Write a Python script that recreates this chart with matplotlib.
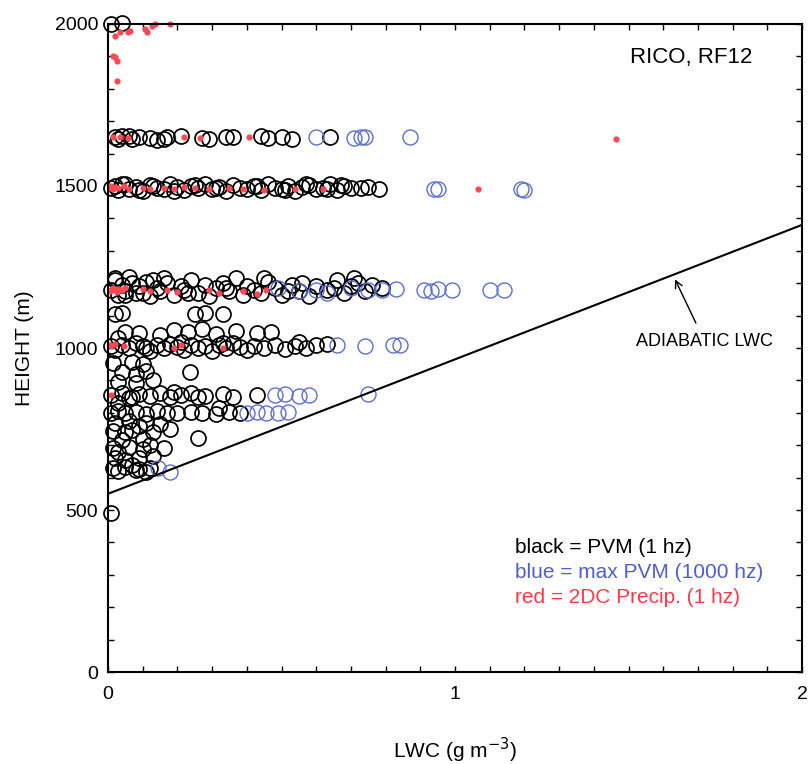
import matplotlib.pyplot as plt
from matplotlib.ticker import MultipleLocator

plt.rcParams['font.family'] = ['Liberation Sans', 'DejaVu Sans']

# PVM (1 hz) - black open circles
pvm_lwc = [
    0.01, 0.04,                                                    # ~2000 m
    0.02, 0.04, 0.07, 0.09, 0.12, 0.14, 0.17, 0.21, 0.27, 0.29,    # ~1650 m
    0.34, 0.36, 0.44, 0.46, 0.50, 0.53, 0.64, 0.03, 0.06, 0.16,
    0.01, 0.02, 0.03, 0.05, 0.06, 0.08, 0.10, 0.12, 0.14, 0.16,    # ~1500 m
    0.18, 0.20, 0.22, 0.24, 0.26, 0.28, 0.30, 0.32, 0.34, 0.36,
    0.38, 0.40, 0.42, 0.44, 0.46, 0.48, 0.50, 0.52, 0.54, 0.56,
    0.58, 0.60, 0.62, 0.64, 0.66, 0.68, 0.70, 0.73, 0.78,
    0.04, 0.09, 0.13, 0.19, 0.25, 0.31, 0.43, 0.51, 0.57, 0.63,
    0.67, 0.75,
    0.01, 0.02, 0.03, 0.04, 0.05, 0.06, 0.08, 0.09, 0.11, 0.12,    # ~1180 m
    0.14, 0.15, 0.17, 0.19, 0.21, 0.22, 0.24, 0.26, 0.28, 0.29,
    0.31, 0.33, 0.35, 0.37, 0.39, 0.40, 0.42, 0.44, 0.46, 0.48,
    0.50, 0.53, 0.55, 0.58, 0.60, 0.63, 0.66, 0.68, 0.70, 0.72,
    0.74, 0.79, 0.02, 0.05, 0.07, 0.10, 0.13, 0.16, 0.23, 0.34,
    0.45, 0.52, 0.56, 0.65, 0.71, 0.76,
    0.02, 0.04, 0.25, 0.28, 0.33,                                  # ~1100 m
    0.01, 0.02, 0.04, 0.06, 0.08, 0.10, 0.12, 0.14, 0.16, 0.18,    # ~1010 m
    0.20, 0.22, 0.24, 0.26, 0.28, 0.30, 0.32, 0.34, 0.36, 0.38,
    0.40, 0.42, 0.45, 0.48, 0.51, 0.54, 0.57, 0.60, 0.63,
    0.05, 0.09, 0.15, 0.19, 0.23, 0.27, 0.31, 0.37, 0.43,
    0.03, 0.11, 0.21, 0.33, 0.47, 0.55,
    0.015, 0.07, 0.10, 0.04, 0.08, 0.235, 0.03, 0.08, 0.13, 0.11,  # 890-960 m
    0.01, 0.04, 0.07, 0.09, 0.12, 0.15, 0.18, 0.21, 0.24, 0.28,    # ~855 m
    0.33, 0.36, 0.43, 0.03, 0.06, 0.19, 0.26, 0.32,
    0.01, 0.03, 0.05, 0.08, 0.11, 0.14, 0.17, 0.20, 0.24, 0.27,    # ~800 m
    0.31, 0.35, 0.38,
    0.02, 0.06, 0.11, 0.15, 0.015, 0.07, 0.13, 0.18, 0.26,         # 720-775 m
    0.05, 0.09,
    0.04, 0.10, 0.015, 0.06, 0.10, 0.16, 0.02, 0.05, 0.09, 0.13,   # 650-720 m
    0.03, 0.12, 0.07,
    0.015, 0.05, 0.09, 0.12, 0.03, 0.08, 0.11, 0.01,               # below 650 m
]
pvm_hgt = [
    2000, 2002,
    1650, 1655, 1645, 1652, 1648, 1642, 1650, 1655, 1648, 1645,
    1652, 1650, 1655, 1648, 1650, 1645, 1650, 1645, 1655, 1645,
    1495, 1500, 1488, 1505, 1492, 1498, 1485, 1502, 1495, 1490,
    1505, 1497, 1488, 1500, 1493, 1507, 1490, 1498, 1485, 1502,
    1495, 1490, 1500, 1488, 1505, 1495, 1490, 1500, 1485, 1498,
    1502, 1490, 1495, 1505, 1488, 1500, 1493, 1495, 1490,
    1505, 1488, 1500, 1485, 1502, 1495, 1500, 1488, 1505, 1490,
    1502, 1498,
    1180, 1210, 1165, 1195, 1175, 1220, 1170, 1190, 1205, 1160,
    1185, 1175, 1200, 1165, 1190, 1180, 1210, 1170, 1195, 1160,
    1185, 1200, 1175, 1215, 1165, 1190, 1180, 1170, 1205, 1185,
    1165, 1195, 1175, 1160, 1190, 1180, 1210, 1170, 1190, 1200,
    1175, 1185, 1215, 1165, 1200, 1170, 1210, 1215, 1170, 1185,
    1215, 1175, 1200, 1185, 1215, 1195,
    1105, 1108, 1105, 1108, 1105,
    1005, 995, 1010, 1000, 1015, 1005, 990, 1008, 1000, 1012,
    1003, 995, 1010, 1000, 1006, 992, 1008, 1000, 1015, 1003,
    995, 1005, 1000, 1010, 998, 1005, 1000, 1008, 1012,
    1050, 1045, 1040, 1055, 1048, 1060, 1042, 1052, 1045,
    1030, 1000, 1020, 1015, 1050, 1020,
    955, 958, 952, 925, 920, 925, 895, 893, 900, 930,
    855, 860, 850, 858, 852, 862, 850, 856, 860, 852,
    858, 850, 855, 830, 845, 865, 848, 815,
    800, 805, 798, 802, 795, 805, 800, 798, 803, 800,
    797, 802, 800,
    770, 775, 768, 765, 745, 748, 742, 750, 721,
    740, 760,
    715, 718, 690, 695, 688, 692, 660, 655, 662, 668,
    680, 700, 640,
    630, 632, 628, 630, 620, 622, 618, 490,
]

# max PVM (1000 hz) - blue open circles
maxpvm_lwc = [
    0.60, 0.71, 0.73, 0.74, 0.87,
    0.94, 0.95, 1.19, 1.20,
    0.49, 0.55, 0.60, 0.63, 0.70, 0.75, 0.79, 0.83, 0.91, 0.93,
    0.95, 0.99, 1.10, 1.14,
    0.66, 0.74, 0.82, 0.84,
    0.48, 0.51, 0.55, 0.58, 0.75,
    0.40, 0.43, 0.455, 0.49, 0.52,
    0.145, 0.18,
]
maxpvm_hgt = [
    1650, 1648, 1652, 1650, 1650,
    1490, 1492, 1490, 1488,
    1185, 1175, 1180, 1170, 1185, 1180, 1178, 1182, 1180, 1175,
    1183, 1180, 1180, 1180,
    1010, 1005, 1008, 1010,
    855, 858, 852, 855, 858,
    800, 802, 798, 800, 803,
    630, 618,
]

# 2DC precip (1 hz) - red dots
precip_lwc = [
    0.02, 0.035, 0.057, 0.063, 0.106, 0.112, 0.126, 0.135, 0.178,
    0.015, 0.02, 0.026, 0.026,
    0.015, 0.035, 0.058, 0.22, 0.264, 0.407, 1.464,
    0.005, 0.01, 0.015, 0.02, 0.03, 0.045, 0.06, 0.10, 0.12, 0.16,
    0.19, 0.22, 0.25, 0.29, 0.35, 0.39, 0.45, 0.54, 0.62, 1.066,
    0.005, 0.01, 0.015, 0.02, 0.025, 0.03, 0.04, 0.05, 0.10, 0.12,
    0.17, 0.20, 0.29, 0.32, 0.39, 0.43, 0.455,
    0.005, 0.01, 0.02, 0.045, 0.19, 0.21, 0.33,
    0.01,
]
precip_hgt = [
    1963, 1975, 1975, 1978, 1985, 1975, 1994, 2000, 2000,
    1901, 1898, 1885, 1824,
    1650, 1652, 1648, 1650, 1648, 1650, 1645,
    1495, 1500, 1492, 1498, 1495, 1500, 1492, 1495, 1490, 1495,
    1492, 1498, 1495, 1490, 1495, 1492, 1488, 1490, 1492, 1490,
    1175, 1180, 1185, 1178, 1172, 1183, 1178, 1185, 1182, 1175,
    1178, 1172, 1180, 1170, 1175, 1168, 1178,
    1010, 1005, 1012, 1005, 1000, 1008, 1000,
    855,
]

# adiabatic LWC line (end points)
adiab_lwc = [0.0, 2.0]
adiab_hgt = [550, 1380]

fig = plt.figure(figsize=(8.08, 7.64), dpi=100)
ax = fig.add_axes([0.1337, 0.1204, 0.8589, 0.8482])

ax.plot(pvm_lwc, pvm_hgt, 'o', ms=10.8, mfc='none', mec='black', mew=1.25, clip_on=False)
ax.plot(maxpvm_lwc, maxpvm_hgt, 'o', ms=10.8, mfc='none', mec='#5b6fd4', mew=1.0)
ax.plot(precip_lwc, precip_hgt, 'o', ms=4.5, mfc='#ff4a55', mec='none', clip_on=False)
ax.plot(adiab_lwc, adiab_hgt, color='black', lw=1.5)

ax.set_xlim(0, 2)
ax.set_ylim(0, 2000)
ax.xaxis.set_major_locator(MultipleLocator(1))
ax.xaxis.set_minor_locator(MultipleLocator(0.1))
ax.yaxis.set_major_locator(MultipleLocator(500))
ax.yaxis.set_minor_locator(MultipleLocator(100))
ax.tick_params(which='both', direction='in', top=True, right=True, length=4.5, width=1)
ax.tick_params(axis='x', labelsize=14, pad=10)
ax.tick_params(axis='y', labelsize=14, pad=7)
for s in ax.spines.values():
    s.set_linewidth(1.5)

ax.set_xlabel('LWC (g m$^{-3}$)', fontsize=15, labelpad=24)
ax.set_ylabel('HEIGHT (m)', fontsize=15, labelpad=15)

ax.text(1.68, 1898, 'RICO, RF12', fontsize=16, ha='center', va='center')
ax.annotate('ADIABATIC LWC', xy=(1.634, 1212), xytext=(1.72, 1019),
            fontsize=13, ha='center', va='center',
            arrowprops=dict(arrowstyle='->', color='black', lw=1, shrinkA=6, shrinkB=0))

ax.text(1.173, 384, 'black = PVM (1 hz)', fontsize=15, color='black', va='center')
ax.text(1.173, 307, 'blue = max PVM (1000 hz)', fontsize=15, color='#4f5fd0', va='center')
ax.text(1.173, 229, 'red = 2DC Precip. (1 hz)', fontsize=15, color='#ff3b4a', va='center')

fig.savefig('out.png', dpi=100)
